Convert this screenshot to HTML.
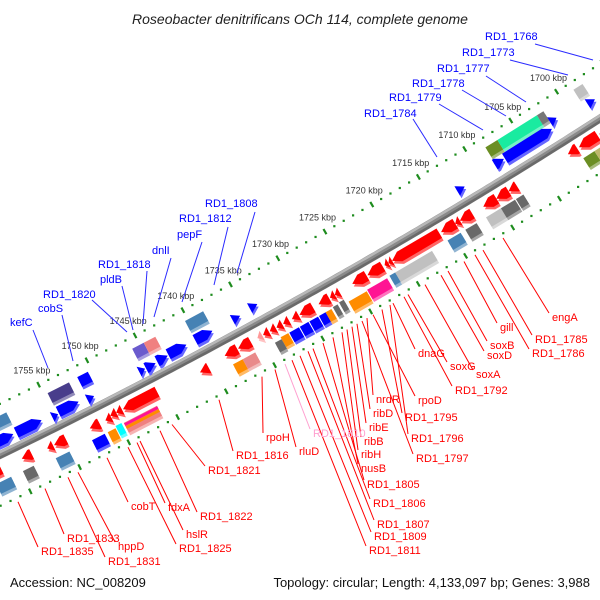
<!DOCTYPE html>
<html><head><meta charset="utf-8"><style>
html,body{margin:0;padding:0;background:#fff;}
svg{display:block;font-family:"Liberation Sans",sans-serif;}
</style></head><body>
<svg id="chart" width="600" height="600" viewBox="0 0 600 600">
<rect width="600" height="600" fill="#fff"/>
<text x="300" y="24" text-anchor="middle" font-size="14" font-style="italic" fill="#222">Roseobacter denitrificans OCh 114, complete genome</text>
<g id="axis"></g>
<g id="feats"></g>
<g id="labels"></g>
<text x="10" y="587" font-size="13" fill="#111">Accession: NC_008209</text>
<text x="590" y="587" font-size="13" fill="#111" text-anchor="end">Topology: circular; Length: 4,133,097 bp; Genes: 3,988</text>
</svg>
<script>
// ---- data ----
const tickKbp = [1700,1705,1710,1715,1720,1725,1730,1735,1740,1745,1750,1755];
const featStart = [1708.3,1707.0,1702.7,1708.4,1707.3,1702.0,1698.6,1698.2,1712.6,1736.4,1734.5,1740.3,1740.3,1745.8,1744.6,1746.2,1745.5,1744.3,1743.1,1754.6,1754.5,1751.5,1751.6,1755.2,1758.8,1761.3,1760.5,
1702.2,1701.0,1698.8,1701.2,1700.0,1711.3,1709.9,1708.6,1711.6,1710.0,1708.4,1715.8,1714.3,1713.8,1713.8,1715.7,1721.0,1721.4,1721.8,1723.6,1725.2,1721.3,1721.9,1724.3,1726.3,
1738.6,1737.2,1735.2,1734.6,1733.9,1733.2,1732.5,1731.6,1730.8,1728.8,1727.6,1727.1,
1733.3,1732.4,1731.3,1730.3,1729.3,1728.6,1727.8,1727.1,1734.0,1738.3,1737.3,1741.3,
1749.1,1750.4,1749.8,1751.0,1749.6,1750.4,1751.3,1752.6,1752.9,1756.9,1756.2,1756.6,1759.4,1759.8,1762.5,1763.0];
const featEnd = [1707.0,1702.7,1702.0,1707.4,1702.2,1701.3,1697.6,1697.4,1711.8,1735.6,1733.7,1738.4,1738.5,1744.6,1743.4,1745.6,1744.5,1743.2,1741.2,1752.4,1752.4,1750.4,1750.9,1754.6,1756.2,1759.1,1758.8,
1701.2,1699.0,1697.0,1700.0,1697.0,1709.9,1708.6,1707.7,1710.0,1708.5,1707.6,1714.3,1713.8,1712.5,1712.6,1714.3,1716.0,1721.0,1721.4,1722.0,1723.7,1717.4,1721.3,1722.2,1724.4,
1737.3,1735.9,1734.7,1734.0,1733.3,1732.6,1731.9,1730.9,1729.4,1727.7,1727.1,1726.6,
1732.5,1731.4,1730.4,1729.4,1728.6,1728.0,1727.3,1726.6,1733.3,1737.3,1736.0,1740.4,
1745.6,1749.8,1749.2,1750.4,1746.2,1749.8,1750.5,1751.6,1751.6,1756.3,1755.0,1755.2,1758.4,1758.7,1761.0,1761.5];
const featRow = [-31,-31,-31,-17,-17,-24,-33,-19,-14,-14,-16,-30,-14,-30,-30,-12,-12,-13,-14,-29,-13,-30,-11,-11,-13,-13,-30,
13,13,13,30,30,13,13,13,29,29,29,13,13,13,29,29,13,13,13,13,13,30,30,31,32,
14,14,14,14,14,14,14,14,14,14,14,14,
30,30,30,30,30,30,29,28,32,31,31,17,
14,14,14,16,31,31,33,16,33,15,15,33,13,30,30,13];
const featColor = ['#6b8e23','#19eba0','#777777','#0000ff','#0000ff','#0000ff','#c0c0c0','#0000ff','#0000ff','#0000ff','#0000ff','#4682b4','#0000ff','#6a5acd','#f08080','#0000ff','#0000ff','#0000ff','#0000ff','#483d8b','#0000ff','#0000ff','#0000ff','#0000ff','#0000ff','#0000ff','#4682b4',
'#ff0000','#ff0000','#ff0000','#6b8e23','#bdb76b','#ff0000','#ff0000','#ff0000','#c0c0c0','#696969','#696969','#ff0000','#ff0000','#ff0000','#696969','#4682b4','#ff0000','#ff0000','#ff0000','#ff0000','#ff0000','#c0c0c0','#4682b4','#ff1493','#ff8c00',
'#ff0000','#ff0000','#ff9999','#ff0000','#ff0000','#ff0000','#ff0000','#ff0000','#ff0000','#ff0000','#ff0000','#ff0000',
'#ff8c00','#0000ff','#0000ff','#0000ff','#0000ff','#ff8c00','#696969','#696969','#696969','#ff8c00','#e98a8a','#ff0000',
'#ff0000','#ff0000','#ff0000','#ff0000','stack','#00ffff','#ff8c00','#ff0000','#0000ff','#ff0000','#ff0000','#4682b4','#ff0000','#696969','#4682b4','#ff0000'];
const featShape = ['box','box','box','arrow','arrow','arrow','box','arrow','arrow','arrow','arrow','box','arrow','box','box','arrow','arrow','arrow','arrow','box','arrow','box','arrow','arrow','arrow','arrow','box',
'arrow','arrow','arrow','box','box','arrow','arrow','arrow','box','box','box','arrow','arrow','arrow','box','box','arrow','arrow','arrow','arrow','arrow','box','box','box','box',
'arrow','arrow','arrow','arrow','arrow','arrow','arrow','arrow','arrow','arrow','arrow','arrow',
'box','box','box','box','box','box','box','box','box','box','box','arrow',
'arrow','arrow','arrow','arrow','box','box','box','arrow','box','arrow','arrow','box','arrow','box','box','arrow'];
const blueLabels = ['RD1_1768','RD1_1773','RD1_1777','RD1_1778','RD1_1779','RD1_1784','RD1_1808','RD1_1812','pepF','dnlI','RD1_1818','pldB','RD1_1820','cobS','kefC'];
const blueLabelPos = [[485,40,535,44,593,60],[462,56,510,60,568,75],[437,72,486,76,526,102],[412,87,462,90,506,116],[389,101,439,104,483,130],[364,117,413,119,437,157],[205,207,255,212,237,273],[179,222,228,227,214,285],[177,238,202,242,182,302],[152,254,171,258,154,317],[98,268,147,271,143,324],[100,283,122,286,133,330],[43,298,92,300,127,332],[38,312,62,315,73,361],[10,326,33,330,48,368]];
const redLabels = ['engA','RD1_1785','RD1_1786','gill','soxB','soxD','soxA','soxG','RD1_1792','dnaG','rpoD','RD1_1795','RD1_1796','RD1_1797','nrdR','ribD','ribE','ribB','ribH','nusB','RD1_1805','RD1_1806','RD1_1807','RD1_1809','RD1_1811','RD1_1810','rluD','rpoH','RD1_1816','RD1_1821','RD1_1822','fdxA','hslR','RD1_1825','cobT','hppD','RD1_1831','RD1_1833','RD1_1835'];
const redLabelPos = [[552,321,503],[535,343,483],[532,357,475],[500,331,464],[490,349,448],[487,359,441],[476,378,425],[450,370,408],[455,394,404],[418,357,393],[418,404,373],[405,421,382],[411,442,390],[416,462,362],[376,403,367],[373,417,357],[369,431,352],[364,445,347],[361,458,342],[361,472,333],[367,488,323],[373,507,313],[377,528,308],[374,540,300],[369,554,292],[313,437,285],[299,455,275],[266,441,262],[236,459,219],[208,474,172],[200,520,160],[168,511,137],[186,538,140],[179,552,128],[131,510,107],[118,550,78],[108,565,68],[67,542,45],[41,555,18]];

// ---- geometry ----
const NS='http://www.w3.org/2000/svg';
const CX=-2498, CY=-4703, R0=5731;
function pt(k,r){const t=(60.5+(k-1727.5)*0.1091)*Math.PI/180;const R=R0+r;return [CX+R*Math.cos(t),CY+R*Math.sin(t)];}
function yOnCircle(x,r){const R=R0+r;return CY+Math.sqrt(R*R-(x-CX)*(x-CX));}
function mk(tag,attrs,parent){const e=document.createElementNS(NS,tag);for(const a in attrs)e.setAttribute(a,attrs[a]);parent.appendChild(e);return e;}
function tint(hex,f){const n=parseInt(hex.slice(1),16);let r=n>>16,g=(n>>8)&255,b=n&255;r=Math.round(r+(255-r)*f);g=Math.round(g+(255-g)*f);b=Math.round(b+(255-b)*f);return 'rgb('+r+','+g+','+b+')';}
function arcPath(r,k0,k1){let d='';for(let k=k0;k<=k1;k+=0.5){const p=pt(k,r);d+=(d?'L':'M')+p[0].toFixed(1)+','+p[1].toFixed(1);}return d;}

// ---- axis ----
const axis=document.getElementById('axis');
let e;
e=mk('path',{d:arcPath(0,1690,1770),stroke:'#8a8a8a','stroke-width':8,fill:'none'},axis);


e=mk('path',{d:arcPath(-2.5,1690,1770),stroke:'#b8b8b8','stroke-width':2.5,fill:'none'},axis);


e=mk('path',{d:arcPath(2.5,1690,1770),stroke:'#6a6a6a','stroke-width':2.5,fill:'none'},axis);


for(let k=1692;k<=1766;k++){
  for(const side of [-1,1]){
    if(k%5===0){
      const a=pt(k,side*46-3),b=pt(k,side*46+3);
      e=mk('line',{x1:a[0],y1:a[1],x2:b[0],y2:b[1],stroke:'#1e8c1e','stroke-width':2.2},axis);
      
      
    } else {
      const a=pt(k,side*46);
      e=mk('rect',{x:a[0]-1.1,y:a[1]-1.1,width:2.2,height:2.2,fill:'#1e8c1e'},axis);
      
      
    }
  }
}
tickKbp.forEach(k=>{
  const p=pt(k,-61);
  e=mk('text',{x:p[0].toFixed(1),y:(p[1]+2).toFixed(1),'text-anchor':'middle','font-size':9,fill:'#333'},axis);
  e.textContent=k+' kbp';
  
  
});

// ---- features ----
const feats=document.getElementById('feats');
function shapePts(s,en,rc,h,shape,tipLow,dr){
  const a=rc-h/2+dr,b=rc+h/2+dr;let P;
  if(shape==='box'){P=[[s,a],[en,a],[en,b],[s,b]];}
  else{const len=en-s;const tl=Math.min(0.8,len);
    if(tipLow){P=[[s,rc+dr],[s+tl,a],[en,a],[en,b],[s+tl,b]];}
    else{P=[[en,rc+dr],[en-tl,a],[s,a],[s,b],[en-tl,b]];}}
  return P.map(q=>pt(q[0],q[1]).map(v=>v.toFixed(1)).join(',')).join(' ');
}
for(let i=0;i<featStart.length;i++){
  const s=Math.min(featStart[i],featEnd[i]),en=Math.max(featStart[i],featEnd[i]);
  const rc=featRow[i],shape=featShape[i],col=featColor[i];
  const tipLow=rc<0;const h=11;
  const g=mk('g',{},feats);
  
  
  if(col==='stack'){
    mk('polygon',{points:shapePts(s,en,rc+1,11,'box',tipLow,3),fill:tint('#f08080',0.4)},g);
    mk('polygon',{points:shapePts(s,en,rc+1,11,'box',tipLow,0),fill:'#f08080'},g);
    mk('polygon',{points:shapePts(s,en,rc-2.5,3,'box',tipLow,0),fill:'#ff1493'},g);
    mk('polygon',{points:shapePts(s,en,rc+0.7,3,'box',tipLow,0),fill:'#ff8c00'},g);
    continue;
  }
  mk('polygon',{points:shapePts(s,en,rc,h,shape,tipLow,3),fill:tint(col,0.4)},g);
  mk('polygon',{points:shapePts(s,en,rc,h,shape,tipLow,0),fill:col},g);
}

// ---- labels ----
const labels=document.getElementById('labels');
blueLabels.forEach((t,i)=>{
  const q=blueLabelPos[i];
  e=mk('line',{x1:q[2],y1:q[3],x2:q[4],y2:q[5],stroke:'#2a2aff','stroke-width':1},labels);
  
  
  e=mk('text',{x:q[0],y:q[1],'font-size':11,fill:'#0000ff'},labels);
  e.textContent=t;
  
  
});
redLabels.forEach((t,i)=>{
  const q=redLabelPos[i];
  const col=t==='RD1_1810'?'#ffa0d0':'#ff0000';
  const ey=yOnCircle(q[2],50);
  e=mk('line',{x1:q[0]-3,y1:q[1]-8,x2:q[2],y2:ey.toFixed(1),stroke:col,'stroke-width':1},labels);
  
  
  e=mk('text',{x:q[0],y:q[1],'font-size':11,fill:col},labels);
  e.textContent=t;
  
  
});
</script>
</body></html>
